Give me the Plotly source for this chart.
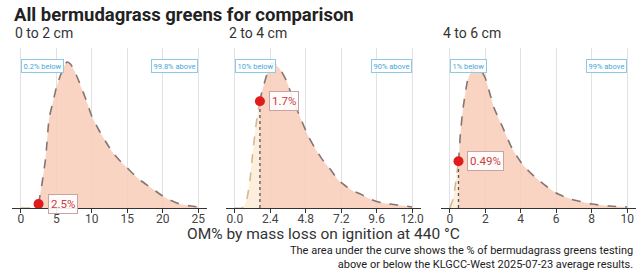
import numpy as np
import plotly.graph_objects as go

# ---------------- data ----------------
panel_titles = ["0 to 2 cm", "2 to 4 cm", "4 to 6 cm"]

om_x_0_2 = [0, 1, 2, 2.5, 3, 3.5, 4, 4.5, 5, 5.5, 6, 6.5, 7, 7.5, 8, 8.5, 9, 9.5, 10,
            11, 12, 13, 14, 15, 16, 17, 18, 19, 20, 21, 22, 23, 24, 25]
dens_0_2 = [0, 0, 1, 4, 25, 50, 90, 105, 120, 131, 140, 146, 144, 138, 130, 121, 112, 102, 92,
            78, 66, 55, 47, 40, 33, 27, 22, 17, 12, 8, 5, 3, 2, 1]

om_x_2_4 = [0, 0.5, 0.75, 1, 1.25, 1.5, 1.75, 2, 2.25, 2.5, 3, 3.5, 4, 4.5, 5, 5.5, 6,
            6.5, 7, 7.5, 8, 8.5, 9, 9.5, 10, 11, 12]
dens_2_4 = [0, 0, 5, 25, 60, 90, 111, 125, 137, 145, 140, 127, 106, 88, 71, 58, 47,
            38, 28, 22, 17, 14, 10, 7, 5, 3, 1]

om_x_4_6 = [0, 0.2, 0.35, 0.5, 0.6, 0.75, 1, 1.25, 1.5, 1.75, 2, 2.25, 2.5, 3, 3.5, 4,
            4.5, 5, 5.5, 6, 6.5, 7, 7.5, 8, 9, 10]
dens_4_6 = [0, 10, 28, 48, 75, 100, 127, 138, 142, 138, 130, 115, 100, 80, 60, 46,
            36, 28, 21, 15, 11, 8, 6, 4, 2, 1]

site_values = [2.5, 1.7, 0.49]
site_labels = ["2.5%", "1.7%", "0.49%"]
below_labels = ["0.2% below", "10% below", "1% below"]
above_labels = ["99.8% above", "90% above", "99% above"]

tickvals_list = [[0, 5, 10, 15, 20, 25],
                 [0, 2.4, 4.8, 7.2, 9.6, 12.0],
                 [0, 2, 4, 6, 8, 10]]
ticktext_list = [["0", "5", "10", "15", "20", "25"],
                 ["0.0", "2.4", "4.8", "7.2", "9.6", "12.0"],
                 ["0", "2", "4", "6", "8", "10"]]
x_ranges = [[-1.25, 26.25], [-0.6, 12.6], [-0.5, 10.5]]

xs = [om_x_0_2, om_x_2_4, om_x_4_6]
ds = [dens_0_2, dens_2_4, dens_4_6]

# ---------------- layout geometry ----------------
W, H = 641, 278
x_domains = [[12 / W, 208 / W], [227 / W, 423 / W], [443 / W, 639 / W]]
y_domain = [(H - 208) / H, (H - 48) / H]
Y_MAX = 160

fig = go.Figure()
annotations = []

for i in range(3):
    xa = "x" if i == 0 else f"x{i+1}"
    ya = "y" if i == 0 else f"y{i+1}"
    x = np.array(xs[i], dtype=float)
    d = np.array(ds[i], dtype=float)
    v = site_values[i]
    dv = float(np.interp(v, x, d))

    left_mask = x < v
    xl = np.append(x[left_mask], v)
    dl = np.append(d[left_mask], dv)
    xr = np.insert(x[~left_mask], 0, v)
    dr = np.insert(d[~left_mask], 0, dv)

    fig.add_trace(go.Scatter(x=xl, y=dl, xaxis=xa, yaxis=ya, mode="lines",
                             fill="tozeroy", fillcolor="rgba(252,236,214,0.85)",
                             line=dict(color="#d8b894", width=1.6, dash="dash", shape="spline", smoothing=0.6),
                             hoverinfo="skip", showlegend=False))
    fig.add_trace(go.Scatter(x=xr, y=dr, xaxis=xa, yaxis=ya, mode="lines",
                             fill="tozeroy", fillcolor="rgba(248,204,184,0.85)",
                             line=dict(color="#857570", width=1.6, dash="dash", shape="spline", smoothing=0.6),
                             hoverinfo="skip", showlegend=False))
    fig.add_trace(go.Scatter(x=[v, v], y=[0, dv], xaxis=xa, yaxis=ya, mode="lines",
                             line=dict(color="#555555", width=1.3, dash="dot"),
                             hoverinfo="skip", showlegend=False))
    fig.add_trace(go.Scatter(x=[v], y=[dv], xaxis=xa, yaxis=ya, mode="markers",
                             marker=dict(color="#e01b1b", size=10),
                             hoverinfo="skip", showlegend=False))

    annotations.append(dict(x=v, y=dv, xref=xa, yref=ya, text=site_labels[i],
                            showarrow=False, xanchor="left", yanchor="middle", xshift=9,
                            font=dict(family="Roboto", size=11.5, color="#c83c48"),
                            bgcolor="rgba(255,255,255,0.9)", bordercolor="#c9a3a3",
                            borderwidth=1, borderpad=2))
    annotations.append(dict(x=tickvals_list[i][0], y=142, xref=xa, yref=ya, text=below_labels[i],
                            showarrow=False, xanchor="left", yanchor="middle",
                            font=dict(family="Roboto", size=7.5, color="#4aa6d6"),
                            bgcolor="rgba(255,255,255,0.9)", bordercolor="#8ccbe8",
                            borderwidth=1, borderpad=1.5))
    annotations.append(dict(x=tickvals_list[i][-1], y=142, xref=xa, yref=ya, text=above_labels[i],
                            showarrow=False, xanchor="right", yanchor="middle",
                            font=dict(family="Roboto", size=7.5, color="#4aa6d6"),
                            bgcolor="rgba(255,255,255,0.9)", bordercolor="#8ccbe8",
                            borderwidth=1, borderpad=1.5))

    fig.update_layout(**{
        ("xaxis" if i == 0 else f"xaxis{i+1}"): dict(
            domain=x_domains[i], anchor=ya, range=x_ranges[i],
            tickvals=tickvals_list[i], ticktext=ticktext_list[i],
            showline=True, linecolor="#333333", linewidth=1,
            ticks="outside", ticklen=4, tickcolor="#333333",
            ticklabelstandoff=-4,
            showgrid=True, gridcolor="#e2e2e2", gridwidth=1, zeroline=False,
            tickfont=dict(family="Roboto", size=12, color="#444444"), fixedrange=True),
        ("yaxis" if i == 0 else f"yaxis{i+1}"): dict(
            domain=y_domain, anchor=xa, range=[0, Y_MAX], visible=False, fixedrange=True),
    })

# panel subtitles
sub_x = [13, 228, 443]
for i in range(3):
    annotations.append(dict(x=sub_x[i] / W, y=1 - 33 / H, xref="paper", yref="paper",
                            text=panel_titles[i], showarrow=False, xanchor="left", yanchor="middle",
                            font=dict(family="Roboto", size=14, color="#333333")))

# main title
annotations.append(dict(x=12 / W, y=1 - 15 / H, xref="paper", yref="paper",
                        text="<b>All bermudagrass greens for comparison</b>", showarrow=False,
                        xanchor="left", yanchor="middle",
                        font=dict(family="Roboto", size=18.5, color="#222222")))
# x axis title
annotations.append(dict(x=325 / W, y=1 - 234 / H, xref="paper", yref="paper",
                        text="OM% by mass loss on ignition at 440 °C", showarrow=False,
                        xanchor="center", yanchor="middle",
                        font=dict(family="Roboto", size=15.5, color="#333333")))
# caption
annotations.append(dict(x=638 / W, y=1 - 257 / H, xref="paper", yref="paper",
                        text="The area under the curve shows the % of bermudagrass greens testing<br>"
                             "above or below the KLGCC-West 2025-07-23 average results.",
                        showarrow=False, xanchor="right", yanchor="middle", align="right",
                        font=dict(family="Roboto", size=11, color="#222222")))

fig.update_layout(width=W, height=H, autosize=False, margin=dict(l=0, r=0, t=0, b=0),
                  paper_bgcolor="white", plot_bgcolor="white",
                  annotations=annotations, showlegend=False)

fig.write_html("out.html", config={"displayModeBar": False},
               post_script="document.body.style.margin='0';document.body.style.overflow='hidden';")
